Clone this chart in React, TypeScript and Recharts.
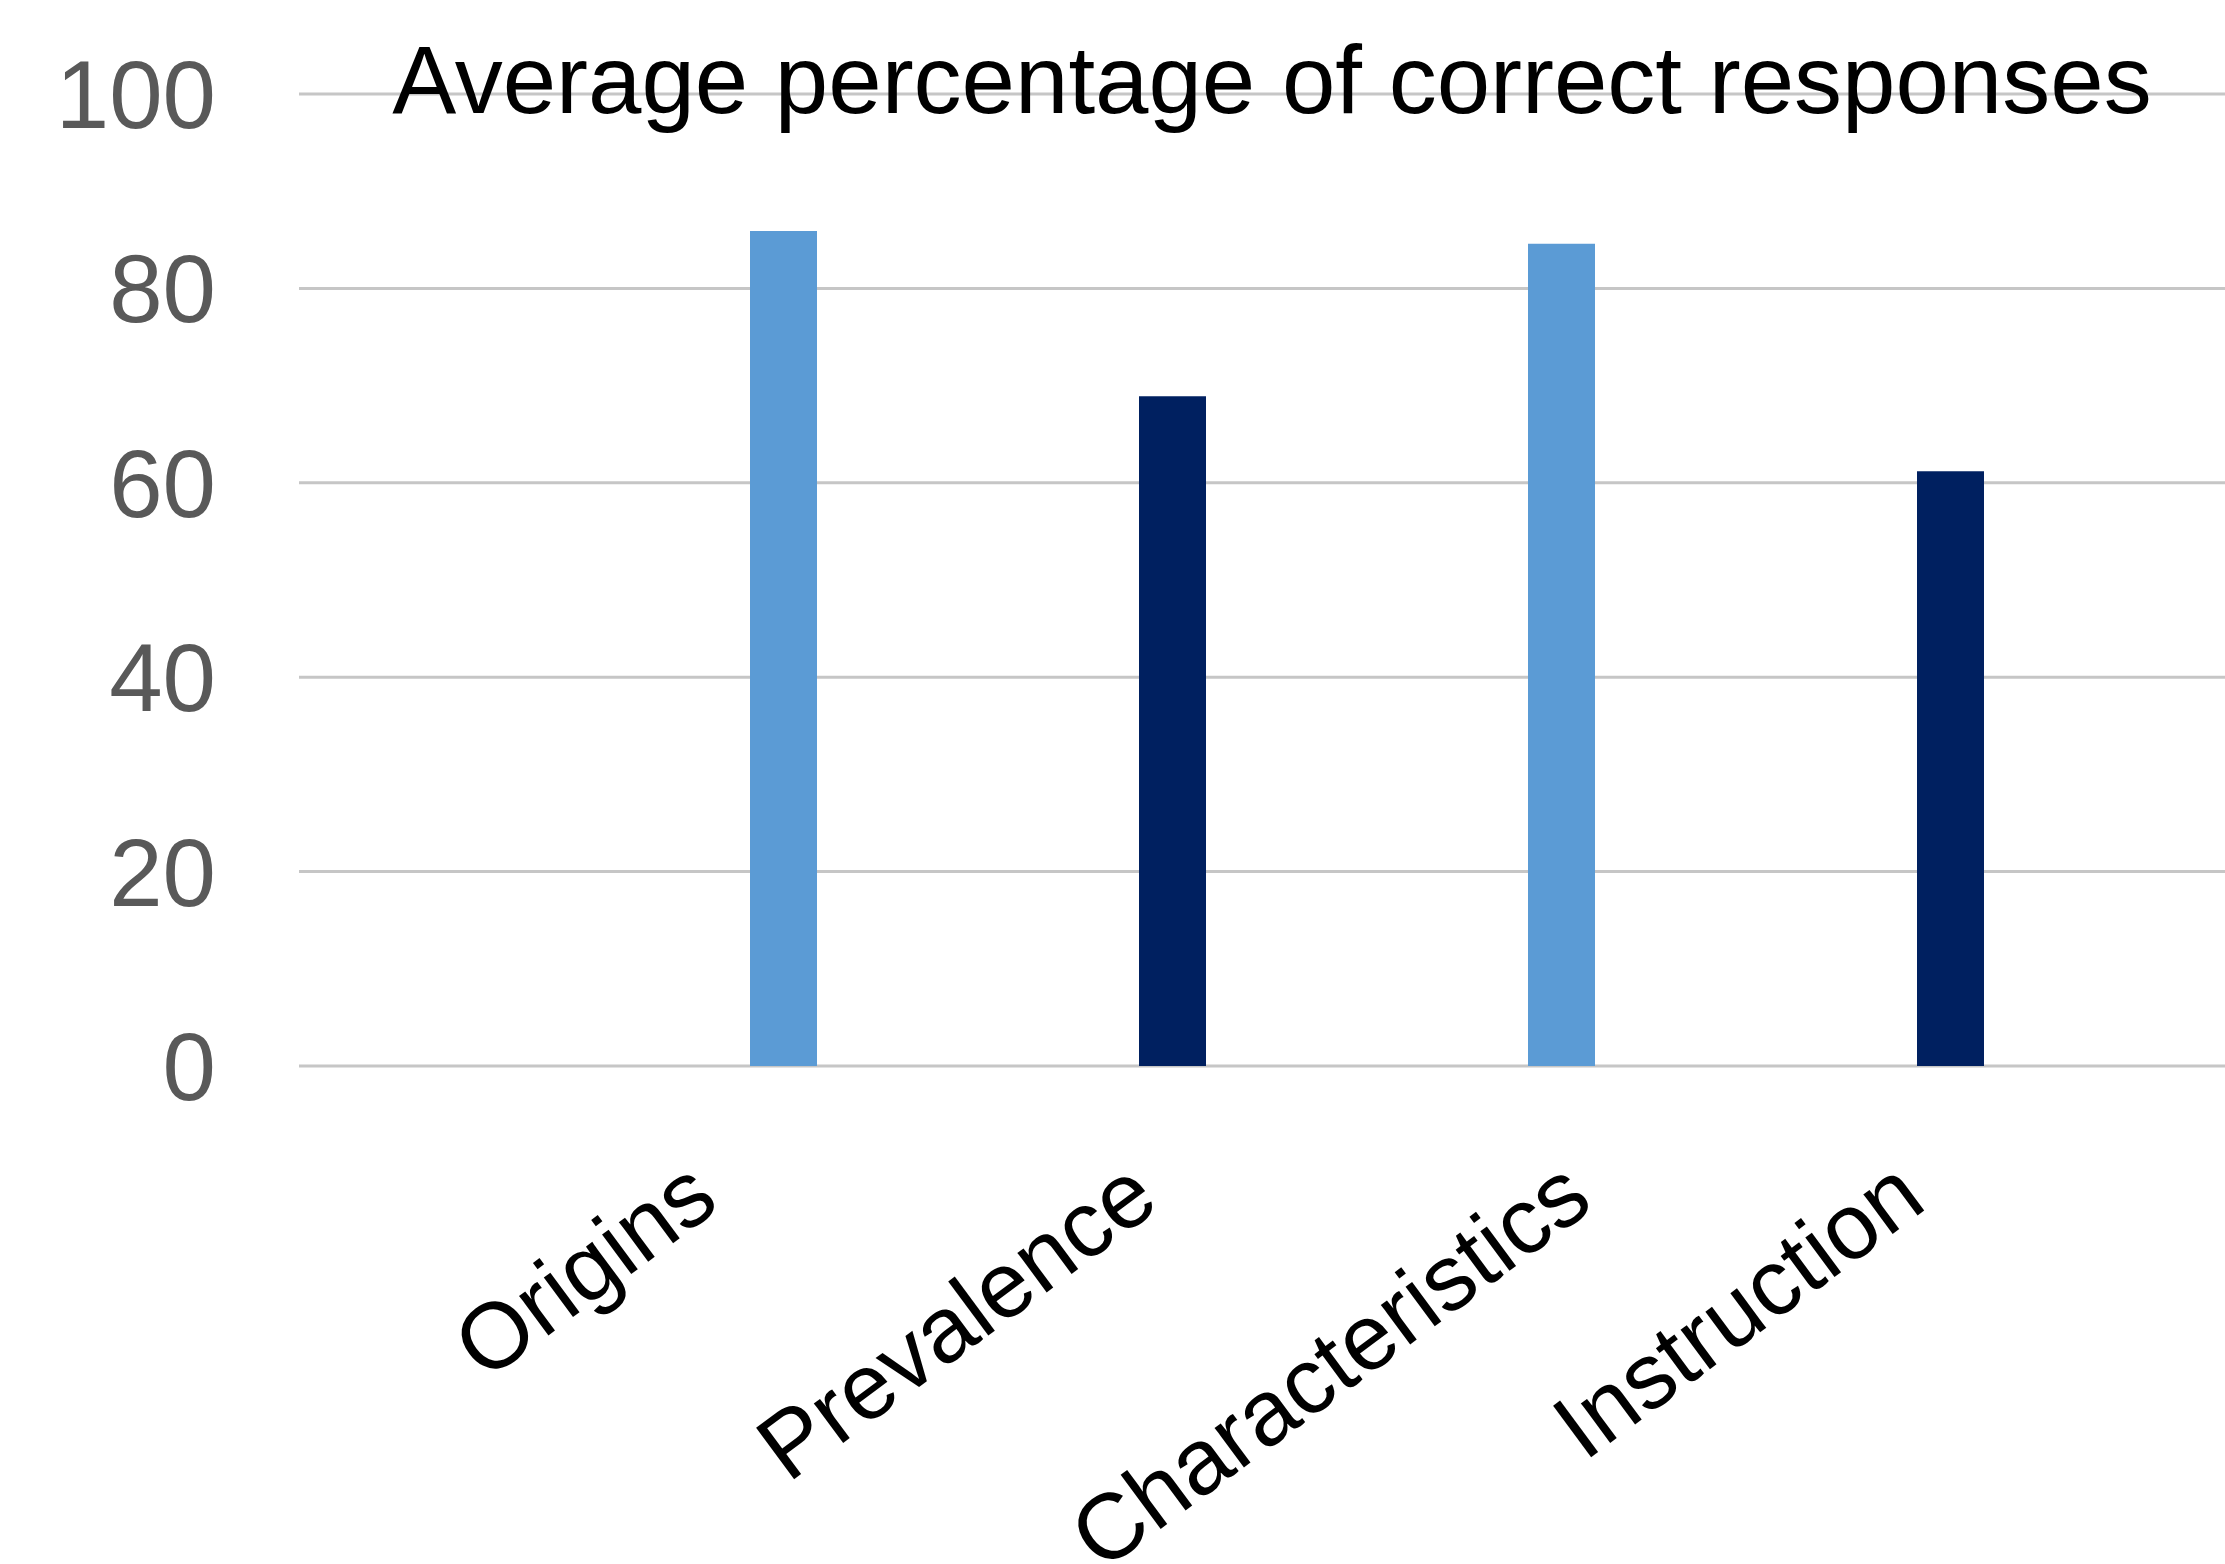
import React from 'react';
import { BarChart, Bar, XAxis, YAxis, CartesianGrid, Cell } from 'recharts';

const categories = ['Origins', 'Prevalence', 'Characteristics', 'Instruction'];
const values = [85.9, 68.9, 84.6, 61.2];
const yTicks = [0, 20, 40, 60, 80, 100];
const title = 'Average percentage of correct responses';

const data = categories.map((c, i) => ({ name: c, value: values[i] }));

const FONT = '"Liberation Sans", Arial, Helvetica, sans-serif';
const BAR_COLORS = ['#5B9BD5', '#002060', '#5B9BD5', '#002060'];
const ANGLE = 36.5;
const LABEL_SIZE = 93;

let ctx: CanvasRenderingContext2D | null = null;
function measure(text: string, size: number): number {
  if (!ctx) ctx = document.createElement('canvas').getContext('2d');
  if (!ctx) return text.length * size * 0.5;
  ctx.font = `${size}px "Liberation Sans"`;
  return ctx.measureText(text).width;
}

const XTick = (props: any) => {
  const { x, payload } = props;
  const L = measure(String(payload.value), LABEL_SIZE);
  const ex = x - 150 + 0.3 * L;
  const ey = 1207;
  return (
    <text
      x={ex}
      y={ey}
      textAnchor="end"
      transform={`rotate(-${ANGLE}, ${ex}, ${ey})`}
      fontSize={LABEL_SIZE}
      fill="#000000"
      fontFamily={FONT}
    >
      {payload.value}
    </text>
  );
};

export default function App() {
  return (
    <div style={{ position: 'absolute', left: 0, top: 0, width: 2225, height: 1564, background: '#ffffff' }}>
      <BarChart
        width={2225}
        height={1564}
        data={data}
        margin={{ top: 94, right: 0, bottom: 0, left: 0 }}
      >
        <CartesianGrid vertical={false} stroke="#C6C6C6" strokeWidth={3} />
        <XAxis
          dataKey="name"
          axisLine={false}
          tickLine={false}
          height={498}
          padding={{ left: 290, right: 80 }}
          tick={<XTick />}
          interval={0}
        />
        <YAxis
          domain={[0, 100]}
          ticks={yTicks}
          width={299}
          axisLine={false}
          tickLine={false}
          tickSize={0}
          tickMargin={83}
          interval={0}
          tick={{ fontSize: 96, fill: '#595959', fontFamily: FONT }}
        />
        <Bar dataKey="value" barSize={67} isAnimationActive={false}>
          {data.map((d, i) => (
            <Cell key={d.name} fill={BAR_COLORS[i]} />
          ))}
        </Bar>
      </BarChart>
      <svg
        width={2225}
        height={1564}
        style={{ position: 'absolute', left: 0, top: 0, pointerEvents: 'none' }}
      >
        <text x={1272} y={113} textAnchor="middle" fontSize={96} fontFamily={FONT} fill="#000000">
          {title}
        </text>
      </svg>
    </div>
  );
}
